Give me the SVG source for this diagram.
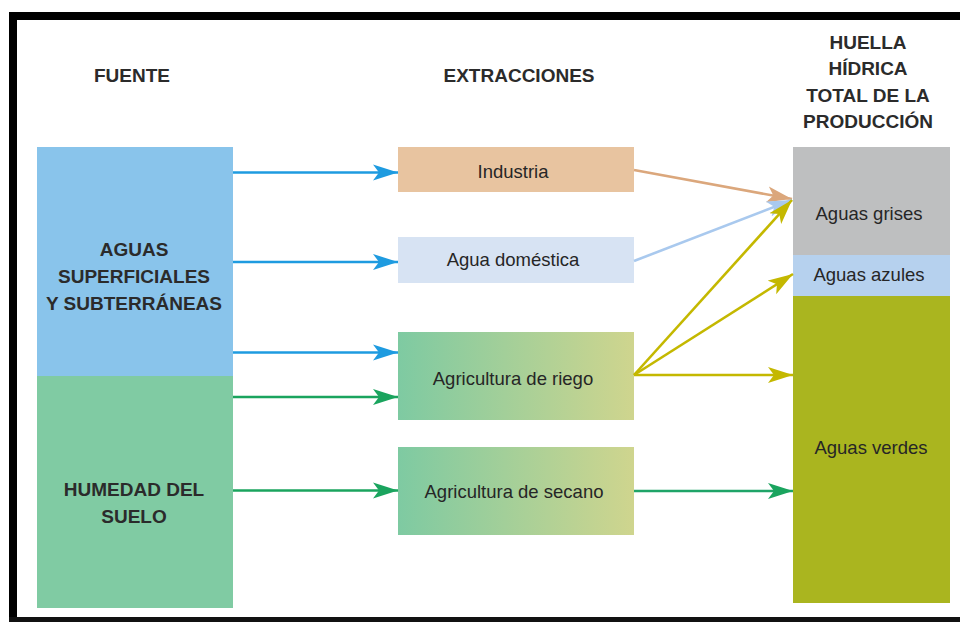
<svg xmlns="http://www.w3.org/2000/svg" width="960" height="622" viewBox="0 0 960 622">
  <style>
    .hdr { font-family: "Liberation Sans", Arial, sans-serif; font-weight: bold; font-size: 19px; fill: #2b2b2b; text-anchor: middle; }
    .lbl { font-family: "Liberation Sans", Arial, sans-serif; font-size: 18.5px; fill: #262626; text-anchor: middle; }
    .cn { fill: none; stroke-width: 2.6; }
  </style>
  <defs>
    <linearGradient id="agri" x1="0" y1="0" x2="1" y2="0">
      <stop offset="0" stop-color="#7ecaa2"/>
      <stop offset="1" stop-color="#cfd58e"/>
    </linearGradient>
    <marker id="mBlue" markerUnits="userSpaceOnUse" viewBox="0 -9 26 18" refX="25" refY="0" markerWidth="26" markerHeight="18" orient="auto">
      <path d="M25,0 L0,-8 L6,0 L0,8 z" fill="#1e9be0"/>
    </marker>
    <marker id="mGreen" markerUnits="userSpaceOnUse" viewBox="0 -9 26 18" refX="25" refY="0" markerWidth="26" markerHeight="18" orient="auto">
      <path d="M25,0 L0,-8 L6,0 L0,8 z" fill="#1aa45e"/>
    </marker>
    <marker id="mOrange" markerUnits="userSpaceOnUse" viewBox="0 -9 26 18" refX="25" refY="0" markerWidth="26" markerHeight="18" orient="auto">
      <path d="M25,0 L0,-8 L6,0 L0,8 z" fill="#dba77c"/>
    </marker>
    <marker id="mLight" markerUnits="userSpaceOnUse" viewBox="0 -9 26 18" refX="25" refY="0" markerWidth="26" markerHeight="18" orient="auto">
      <path d="M25,0 L0,-8 L6,0 L0,8 z" fill="#a9c9ee"/>
    </marker>
    <marker id="mYellow" markerUnits="userSpaceOnUse" viewBox="0 -9 26 18" refX="25" refY="0" markerWidth="26" markerHeight="18" orient="auto">
      <path d="M25,0 L0,-8 L6,0 L0,8 z" fill="#c4b800"/>
    </marker>
  </defs>

  <rect x="0" y="0" width="960" height="622" fill="#ffffff"/>
  <!-- frame -->
  <rect x="9" y="12" width="951" height="8" fill="#000"/>
  <rect x="9" y="12" width="8" height="610" fill="#000"/>
  <rect x="9" y="617" width="951" height="5" fill="#111"/>

  <!-- headers -->
  <g id="headers">
    <text class="hdr" x="132" y="82">FUENTE</text>
    <text class="hdr" x="519" y="82">EXTRACCIONES</text>
    <text class="hdr" x="868" y="48.5">HUELLA</text>
    <text class="hdr" x="868" y="75">HÍDRICA</text>
    <text class="hdr" x="868" y="101.5">TOTAL DE LA</text>
    <text class="hdr" x="868" y="128">PRODUCCIÓN</text>
  </g>

  <!-- source nodes -->
  <g id="aguas-superficiales">
    <rect x="37" y="147" width="196" height="229" fill="#89c4eb"/>
    <text class="hdr" x="134" y="256">AGUAS</text>
    <text class="hdr" x="134" y="283">SUPERFICIALES</text>
    <text class="hdr" x="134" y="310">Y SUBTERRÁNEAS</text>
  </g>
  <g id="humedad-suelo">
    <rect x="37" y="376" width="196" height="232" fill="#80cba3"/>
    <text class="hdr" x="134" y="496">HUMEDAD DEL</text>
    <text class="hdr" x="134" y="523">SUELO</text>
  </g>

  <!-- extraction nodes -->
  <g id="industria">
    <rect x="398" y="147" width="236" height="45" fill="#e8c4a0"/>
    <text class="lbl" x="513" y="178">Industria</text>
  </g>
  <g id="agua-domestica">
    <rect x="398" y="237" width="236" height="46" fill="#d7e3f3"/>
    <text class="lbl" x="513" y="266">Agua doméstica</text>
  </g>
  <g id="agricultura-riego">
    <rect x="398" y="332" width="236" height="88" fill="url(#agri)"/>
    <text class="lbl" x="513" y="385">Agricultura de riego</text>
  </g>
  <g id="agricultura-secano">
    <rect x="398" y="447" width="236" height="88" fill="url(#agri)"/>
    <text class="lbl" x="514" y="498">Agricultura de secano</text>
  </g>

  <!-- footprint nodes -->
  <g id="aguas-grises">
    <rect x="793" y="147" width="157" height="108" fill="#bebfc0"/>
    <text class="lbl" x="869" y="220">Aguas grises</text>
  </g>
  <g id="aguas-azules">
    <rect x="793" y="255" width="157" height="41" fill="#b6d1ee"/>
    <text class="lbl" x="869" y="281">Aguas azules</text>
  </g>
  <g id="aguas-verdes">
    <rect x="793" y="296" width="157" height="307" fill="#aab51f"/>
    <text class="lbl" x="871" y="454">Aguas verdes</text>
  </g>

  <!-- connectors -->
  <g id="connectors">
    <line class="cn" x1="233" y1="172.5" x2="398" y2="172.5" stroke="#1e9be0" marker-end="url(#mBlue)"/>
    <line class="cn" x1="233" y1="262" x2="398" y2="262" stroke="#1e9be0" marker-end="url(#mBlue)"/>
    <line class="cn" x1="233" y1="352.5" x2="398" y2="352.5" stroke="#1e9be0" marker-end="url(#mBlue)"/>
    <line class="cn" x1="233" y1="397" x2="398" y2="397" stroke="#1aa45e" marker-end="url(#mGreen)"/>
    <line class="cn" x1="233" y1="490.5" x2="398" y2="490.5" stroke="#1aa45e" marker-end="url(#mGreen)"/>

    <line class="cn" x1="634" y1="170" x2="792" y2="199" stroke="#dba77c" marker-end="url(#mOrange)"/>
    <line class="cn" x1="634" y1="261" x2="792" y2="200" stroke="#a9c9ee" marker-end="url(#mLight)"/>
    <line class="cn" x1="634" y1="375" x2="792" y2="200" stroke="#c4b800" marker-end="url(#mYellow)"/>
    <line class="cn" x1="634" y1="375" x2="793" y2="274" stroke="#c4b800" marker-end="url(#mYellow)"/>
    <line class="cn" x1="634" y1="375" x2="793" y2="375" stroke="#c4b800" marker-end="url(#mYellow)"/>
    <line class="cn" x1="634" y1="491" x2="793" y2="491" stroke="#1fa468" marker-end="url(#mGreen)"/>
  </g>
</svg>
